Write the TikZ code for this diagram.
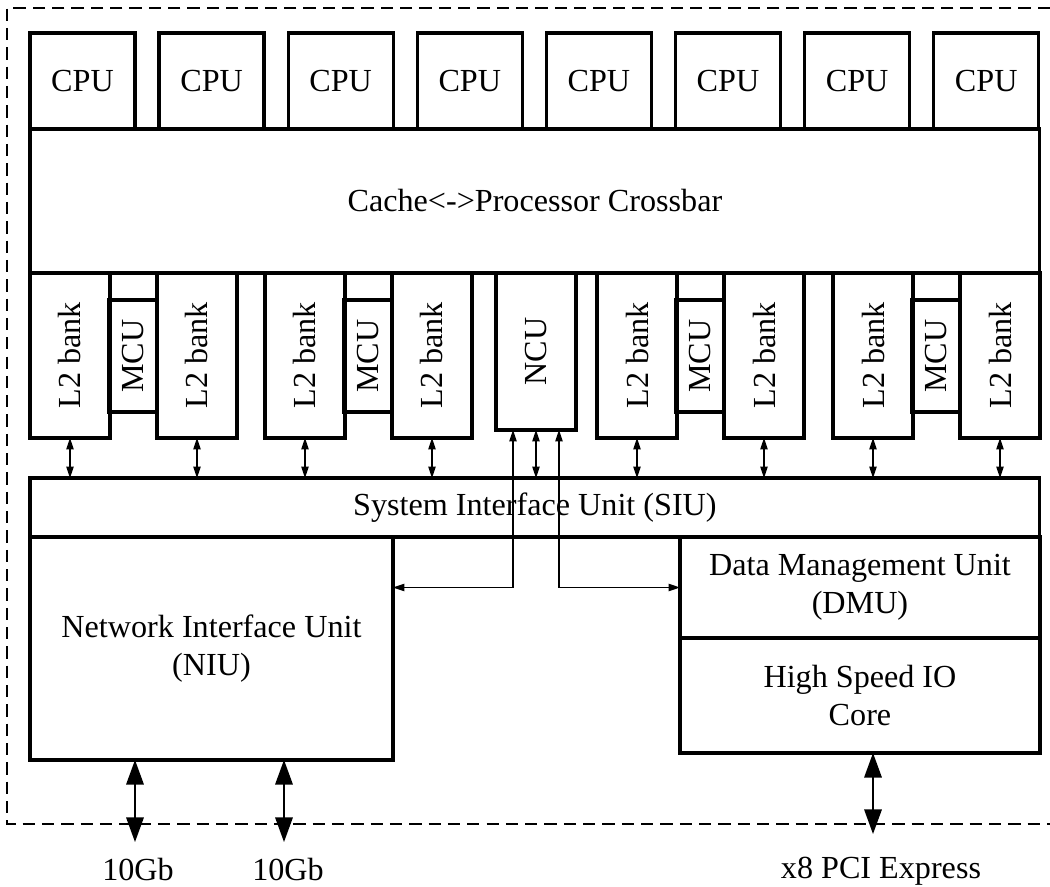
\documentclass[tikz,border=0pt]{standalone}
\usepackage{fontspec}
\setmainfont{Liberation Serif}
\usetikzlibrary{arrows.meta, positioning}

\begin{document}
\begin{tikzpicture}[x=0.02cm, y=-0.02cm,
    font=\fontsize{18.3}{21.5}\selectfont,
    box/.style={draw, line width=1.9pt, inner sep=0pt, outer sep=0pt, anchor=north west, align=center},
    link/.style={{Triangle[length=6.5pt, width=4.2pt]}-{Triangle[length=6.5pt, width=4.2pt]}, line width=0.7pt},
    port/.style={{Triangle[length=14pt, width=10pt]}-{Triangle[length=14pt, width=10pt]}, line width=0.8pt},
    frame/.style={dash pattern=on 7pt off 4pt, line width=0.7pt}]
  \useasboundingbox (0,0) rectangle (1050,886);
  \draw[frame] (1050,8) -- (7,8) -- (7,824) -- (1050,824);
  % cores and crossbar
  \foreach \i in {0,...,7}
    \node[box, minimum width=2.1cm, minimum height=1.92cm] (cpu\i) at ({30+129.1*\i},33) {CPU};
  \node[box, minimum width=20.2cm, minimum height=2.88cm] (xbar) at (30,129) {Cache<->Processor Crossbar};
  % L2 banks with their memory controllers
  \foreach \s [count=\g] in {30,265,597,833} {
    \node[box, minimum width=1.6cm, minimum height=3.3cm] (l2a\g) at (\s,273) {\rotatebox{90}{L2 bank}};
    \node[box, minimum width=0.96cm, minimum height=2.24cm] (mcu\g) at (\s+79,300) {\rotatebox{90}{MCU}};
    \node[box, minimum width=1.6cm, minimum height=3.3cm] (l2b\g) at (\s+127,273) {\rotatebox{90}{L2 bank}};
  }
  \node[box, minimum width=1.6cm, minimum height=3.14cm] (ncu) at (496,273) {\rotatebox{90}{NCU}};
  % interface units
  \node[box, minimum width=20.2cm, minimum height=1.18cm] (siu) at (30,478) {System Interface Unit (SIU)};
  \node[box, minimum width=7.26cm, minimum height=4.46cm] (niu) at (30,537) {Network Interface Unit\\(NIU)};
  \node[box, minimum width=7.2cm, minimum height=2.02cm] (dmu) at (680,537) {Data Management Unit\\(DMU)};
  \node[box, minimum width=7.2cm, minimum height=2.3cm] (hsio) at (680,638) {High Speed IO\\Core};
  \foreach \g in {1,...,4}
    \foreach \n in {l2a,l2b}
      \draw[link] (\n\g.south) -- (\n\g.south |- siu.north);
  \draw[link] (ncu.south) -- (ncu.south |- siu.north);
  \draw[link] ([xshift=-0.46cm]ncu.south) |- (niu.east |- dmu.west);
  \draw[link] ([xshift=0.46cm]ncu.south) |- (dmu.west);
  % external ports
  \coordinate (eth1) at (135,842);
  \coordinate (eth2) at (284,842);
  \coordinate (pcie) at (873,834);
  \draw[port] (eth1 |- niu.south) -- (eth1);
  \draw[port] (eth2 |- niu.south) -- (eth2);
  \draw[port] (pcie |- hsio.south) -- (pcie);
  \node (eth1lbl) at (138,869) {10Gb};
  \node (eth2lbl) at (288,869) {10Gb};
  \node (pcielbl) at (881,871) {x8 PCI Express};
\end{tikzpicture}
\end{document}
